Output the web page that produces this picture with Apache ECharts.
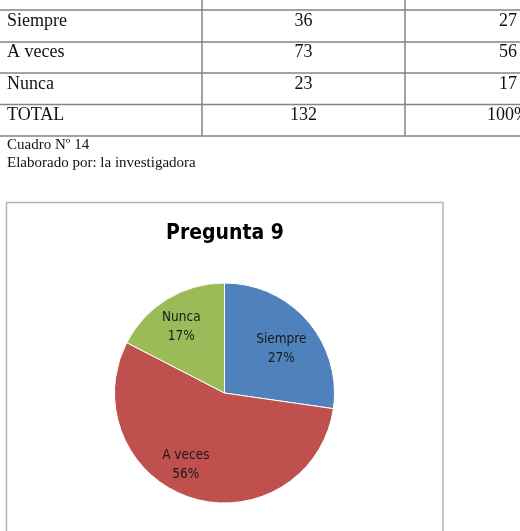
<!DOCTYPE html>
<html>
<head>
<meta charset="utf-8">
<script src="https://cdn.jsdelivr.net/npm/echarts@6/dist/echarts.min.js"></script>
<style>
  html, body { margin: 0; padding: 0; background: #fff; }
  #chart { width: 520px; height: 531px; }
</style>
</head>
<body>
<div id="chart"></div>
<script>
// ---- data ----
const categories = ['Siempre', 'A veces', 'Nunca'];
const counts = [36, 73, 23];
const percents = [27, 56, 17];
const totalLabel = 'TOTAL';
const totalCount = 132;
const totalPercent = 100;
const chartTitle = 'Pregunta 9';
const captionLines = ['Cuadro Nº 14', 'Elaborado por: la investigadora'];
const sliceColors = ['#4F81BD', '#C0504D', '#9BBB59'];

// ---- layout (styles / positions) ----
const rowTextY = [21, 52.5, 84, 115.5];
const hLinesY = [10, 42, 73, 104.5, 136];
const vLinesX = [202, 405];
const serif = '"Liberation Serif", "DejaVu Serif", serif';
const condensed = '"DejaVu Sans Condensed", "DejaVu Sans", sans-serif';
const lineColor = '#858585';

const graphics = [];
hLinesY.forEach(y => graphics.push({
  type: 'line', silent: true,
  shape: { x1: 0, y1: y, x2: 520, y2: y },
  style: { stroke: lineColor, lineWidth: 1.5 }
}));
vLinesX.forEach(x => graphics.push({
  type: 'line', silent: true,
  shape: { x1: x, y1: 0, x2: x, y2: 136 },
  style: { stroke: lineColor, lineWidth: 1.5 }
}));

const rowNames = categories.concat([totalLabel]);
const rowCounts = counts.concat([totalCount]);
const rowPcts = percents.map(String).concat([totalPercent + '%']);
rowNames.forEach((name, i) => {
  const y = rowTextY[i];
  graphics.push({ type: 'text', silent: true, x: 7, y: y,
    style: { text: name, font: '18px ' + serif, fill: '#111', align: 'left', verticalAlign: 'middle' } });
  graphics.push({ type: 'text', silent: true, x: 303.5, y: y,
    style: { text: String(rowCounts[i]), font: '18px ' + serif, fill: '#111', align: 'center', verticalAlign: 'middle' } });
  const isTotal = i === rowNames.length - 1;
  graphics.push({ type: 'text', silent: true, x: isTotal ? 487 : 517, y: y,
    style: { text: rowPcts[i], font: '18px ' + serif, fill: '#111', align: isTotal ? 'left' : 'right', verticalAlign: 'middle' } });
});
captionLines.forEach((t, i) => graphics.push({
  type: 'text', silent: true, x: 7, y: 145.5 + i * 17.5,
  style: { text: t, font: '15px ' + serif, fill: '#111', align: 'left', verticalAlign: 'middle' }
}));
// chart frame
graphics.push({
  type: 'rect', silent: true, z: -1,
  shape: { x: 6.5, y: 202.5, width: 436.5, height: 400 },
  style: { fill: '#fff', stroke: '#b4b4b4', lineWidth: 1.5 }
});

const labelShift = [[13, -6], [-21, 17], [-13, -16]];

const chart = echarts.init(document.getElementById('chart'), null, { renderer: 'canvas' });
chart.setOption({
  animation: false,
  backgroundColor: '#fff',
  graphic: graphics,
  title: {
    text: chartTitle,
    left: 220, top: 218,
    textAlign: 'center',
    textStyle: { fontFamily: condensed, fontWeight: 'bold', fontSize: 21, color: '#000' }
  },
  series: [{
    type: 'pie',
    center: [224.5, 393],
    radius: [0, 110],
    startAngle: 90,
    clockwise: true,
    silent: true,
    data: categories.map((c, i) => ({ name: c, value: counts[i], itemStyle: { color: sliceColors[i] } })),
    itemStyle: { borderColor: '#ffffff', borderWidth: 1 },
    label: {
      show: true,
      position: 'inside',
      fontFamily: condensed,
      fontSize: 13.5,
      lineHeight: 19,
      color: '#1a1a1a',
      formatter: p => p.name + '\n' + percents[p.dataIndex] + '%'
    },
    labelLayout: p => ({ dx: labelShift[p.dataIndex][0], dy: labelShift[p.dataIndex][1] }),
    labelLine: { show: false }
  }]
});
</script>
</body>
</html>
